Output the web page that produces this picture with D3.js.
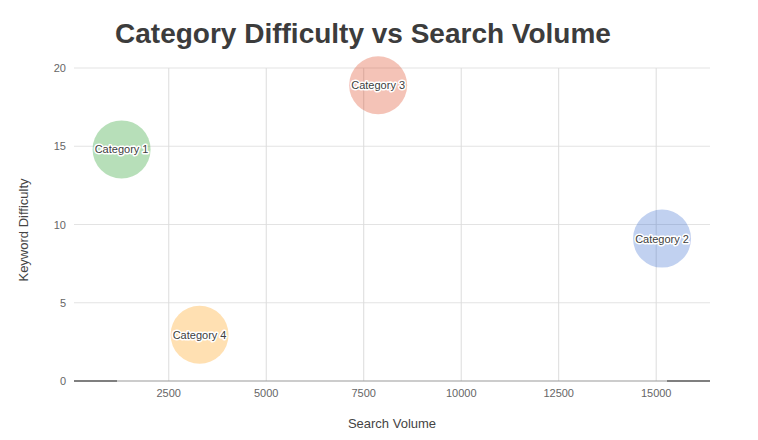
<!DOCTYPE html>
<html>
<head>
<meta charset="utf-8">
<script src="https://cdn.jsdelivr.net/npm/d3@7"></script>
<style>
  body { margin: 0; background: #fff; }
  svg text { font-family: Arial, "Liberation Sans", sans-serif; }
</style>
</head>
<body>
<div id="root"></div>
<script>
const categories = ["Category 1", "Category 2", "Category 3", "Category 4"];
const searchVolume = [1290, 15150, 7870, 3290];
const keywordDifficulty = [14.8, 9.1, 18.9, 2.95];
const colors = ["#109618", "#3366cc", "#dc3912", "#ff9900"];
const xTicks = [2500, 5000, 7500, 10000, 12500, 15000];
const yTicks = [0, 5, 10, 15, 20];

const width = 758, height = 440;
const margin = { top: 68, right: 48, bottom: 59, left: 74 };

const svg = d3.select("#root").append("svg")
    .attr("width", width)
    .attr("height", height);

const x = d3.scaleLinear()
    .domain([70, 16380])
    .range([margin.left, width - margin.right]);

const y = d3.scaleLinear()
    .domain([0, 20])
    .range([height - margin.bottom, margin.top]);

// gridlines
svg.append("g")
    .selectAll("line")
    .data(yTicks.filter(d => d !== 0))
    .enter().append("line")
    .attr("x1", x.range()[0]).attr("x2", x.range()[1])
    .attr("y1", d => y(d)).attr("y2", d => y(d))
    .attr("stroke", "#e3e3e3");

svg.append("g")
    .selectAll("line")
    .data(xTicks)
    .enter().append("line")
    .attr("x1", d => x(d)).attr("x2", d => x(d))
    .attr("y1", y(20)).attr("y2", y(0))
    .attr("stroke", "#dcdcdc");

// baseline
svg.append("line")
    .attr("x1", x.range()[0]).attr("x2", x.range()[1])
    .attr("y1", y(0)).attr("y2", y(0))
    .attr("stroke", "#999");
[[x.range()[0], x.range()[0] + 43], [x.range()[1] - 43, x.range()[1]]].forEach(s => {
    svg.append("line")
        .attr("x1", s[0]).attr("x2", s[1])
        .attr("y1", y(0)).attr("y2", y(0))
        .attr("stroke", "#333");
});

// tick labels
svg.append("g")
    .selectAll("text")
    .data(yTicks)
    .enter().append("text")
    .attr("x", margin.left - 8)
    .attr("y", d => y(d) + 4)
    .attr("text-anchor", "end")
    .style("font-size", "11px")
    .style("fill", "#666")
    .text(d => d);

svg.append("g")
    .selectAll("text")
    .data(xTicks)
    .enter().append("text")
    .attr("x", d => x(d))
    .attr("y", y(0) + 16)
    .attr("text-anchor", "middle")
    .style("font-size", "11px")
    .style("fill", "#666")
    .text(d => d);

// bubbles
const data = categories.map((c, i) => ({
    name: c, sv: searchVolume[i], kd: keywordDifficulty[i], color: colors[i]
}));

const node = svg.selectAll(".bubble")
    .data(data)
    .enter().append("g")
    .attr("class", "bubble")
    .attr("transform", d => `translate(${x(d.sv)},${y(d.kd)})`);

node.append("circle")
    .attr("r", 29)
    .attr("fill", d => d.color)
    .attr("fill-opacity", 0.3);

node.append("text")
    .attr("text-anchor", "middle")
    .attr("dy", 4)
    .style("font-size", "11px")
    .style("fill", "none")
    .style("stroke", "#fff")
    .style("stroke-width", 3)
    .style("stroke-linejoin", "round")
    .text(d => d.name);

node.append("text")
    .attr("text-anchor", "middle")
    .attr("dy", 4)
    .style("font-size", "11px")
    .style("fill", "#404040")
    .text(d => d.name);

// title and axis labels
svg.append("text")
    .attr("x", 363)
    .attr("y", 43)
    .attr("text-anchor", "middle")
    .style("font-size", "28px")
    .style("font-weight", "bold")
    .style("fill", "#3c3c3c")
    .text("Category Difficulty vs Search Volume");

svg.append("text")
    .attr("x", (x.range()[0] + x.range()[1]) / 2)
    .attr("y", 428)
    .attr("text-anchor", "middle")
    .style("font-size", "13px")
    .style("fill", "#444")
    .text("Search Volume");

svg.append("text")
    .attr("transform", "translate(28,230) rotate(-90)")
    .attr("text-anchor", "middle")
    .style("font-size", "13px")
    .style("fill", "#444")
    .text("Keyword Difficulty");
</script>
</body>
</html>
